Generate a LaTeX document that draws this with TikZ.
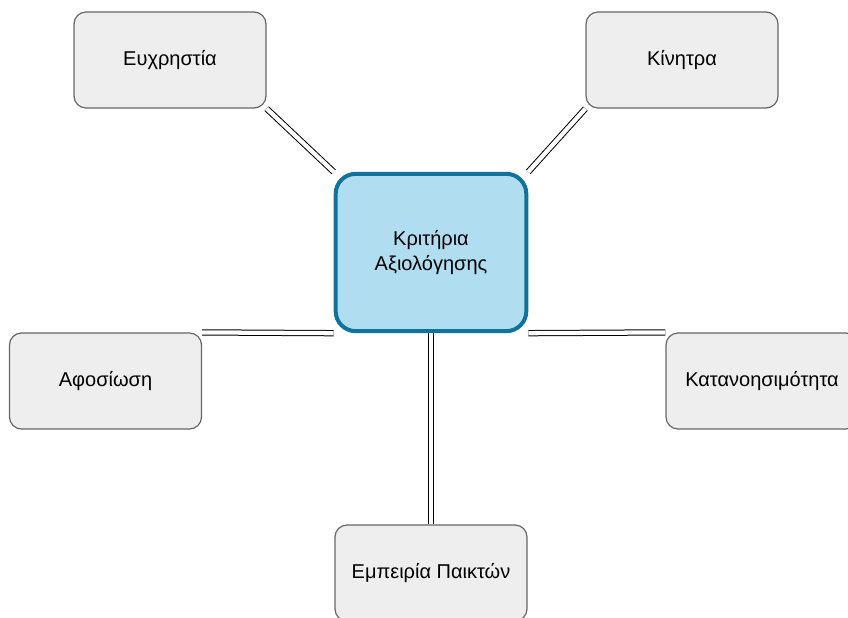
\documentclass[tikz,border=0pt]{standalone}
\usepackage{fontspec}
\setmainfont{Liberation Sans}
\usepackage{xcolor}
\usetikzlibrary{positioning, calc}

\definecolor{boxfill}{HTML}{EEEEEE}
\definecolor{boxline}{HTML}{666666}
\definecolor{hubfill}{HTML}{B1DDF0}
\definecolor{hubline}{HTML}{10739E}

\begin{document}
\begin{tikzpicture}[
    x=0.75pt, y=-0.75pt,
    crit/.style={draw=boxline, line width=0.9pt, fill=boxfill, rounded corners=9pt, minimum width=144pt, minimum height=72pt, align=center, font=\fontsize{15}{18.5}\selectfont},
    hub/.style={draw=hubline, line width=3pt, fill=hubfill, rounded corners=15pt, minimum width=143pt, minimum height=118pt, align=center, font=\fontsize{15}{18.5}\selectfont},
    conn/.style={draw=black, line width=0.75pt, double=white, double distance=3.2pt}
]
    \clip (0,0) rectangle (848,617);

    % Nodes
    \node[hub] (kritiria) at (431,252.5) {Κριτήρια\\Αξιολόγησης};
    \node[crit] (euxr) at (170,60) {Ευχρηστία};
    \node[crit] (kinitra) at (682,60) {Κίνητρα};
    \node[crit] (afos) at (105.5,381) {Αφοσίωση};
    \node[crit] (katan) at (762,381) {Κατανοησιμότητα};
    \node[crit] (empeir) at (431,573) {Εμπειρία Παικτών};

    % Connections
    \draw[conn] (euxr.south east) -- (kritiria.north west);
    \draw[conn] (kinitra.south west) -- (kritiria.north east);
    \draw[conn] (afos.north east) -- (kritiria.south west);
    \draw[conn] (kritiria.south east) -- (katan.north west);
    \draw[conn] (kritiria.south) -- (empeir.north);
\end{tikzpicture}
\end{document}
